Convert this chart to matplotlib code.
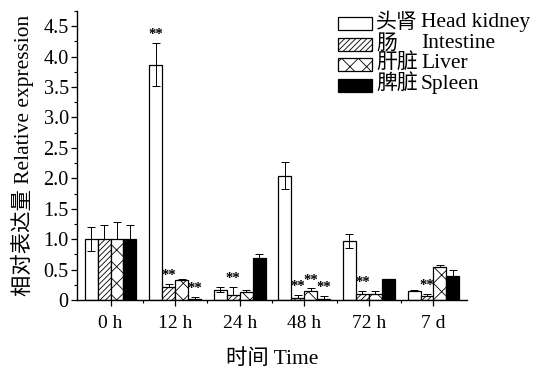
import numpy as np
import matplotlib
matplotlib.use("Agg")
import matplotlib.pyplot as plt
from matplotlib.ticker import MultipleLocator, FixedLocator
from matplotlib.patches import Rectangle

plt.rcParams['font.family'] = ['Liberation Serif', 'Noto Sans CJK SC']
plt.rcParams['hatch.linewidth'] = 0.6

groups = ["0 h", "12 h", "24 h", "48 h", "72 h", "7 d"]
series_cn = ["头肾", "肠", "肝脏", "脾脏"]
series_en = ["Head kidney", "Intestine", "Liver", "Spleen"]
head_kidney = [1.00, 3.87, 0.17, 2.04, 0.97, 0.15]
head_kidney_err = [0.20, 0.36, 0.04, 0.22, 0.12, 0.01]
intestine = [1.00, 0.21, 0.08, 0.04, 0.10, 0.07]
intestine_err = [0.23, 0.05, 0.13, 0.04, 0.05, 0.03]
liver = [1.00, 0.33, 0.13, 0.15, 0.10, 0.54]
liver_err = [0.28, 0.02, 0.03, 0.04, 0.04, 0.03]
spleen = [1.00, 0.02, 0.69, 0.02, 0.34, 0.39]
spleen_err = [0.23, 0.03, 0.06, 0.045, 0.01, 0.10]
# significance markers: (group index, series index)
signif = [(1, 0), (1, 1), (1, 3), (2, 1), (3, 1), (3, 2), (3, 3), (4, 1), (5, 1)]

values = [head_kidney, intestine, liver, spleen]
errors = [head_kidney_err, intestine_err, liver_err, spleen_err]
faces = ['white', 'white', 'white', 'black']
hatches = [None, '//////', 'xx', None]

W, H = 544, 370
fig = plt.figure(figsize=(W / 100, H / 100), dpi=100)
ax = fig.add_axes([77 / W, 1 - 300 / H, 390 / W, 289 / H])

x = np.arange(len(groups))
w = 0.2
offsets = [-0.3, -0.1, 0.1, 0.3]
for i in range(4):
    v = np.array(values[i]); e = np.array(errors[i])
    ax.bar(x + offsets[i], v, width=w, color=faces[i], edgecolor='black',
           linewidth=0.9, hatch=hatches[i], zorder=2)
    if i == 0:
        yerr = e
    else:
        yerr = [np.zeros_like(e), e]
    ax.errorbar(x + offsets[i], v, yerr=yerr, fmt='none', ecolor='black',
                elinewidth=0.7, capsize=3, capthick=0.7, zorder=3)

for g, s in signif:
    top = values[s][g] + errors[s][g]
    ax.text(g + offsets[s], top + 0.03, "**", ha='center', va='bottom',
            fontsize=10.5, fontweight='bold')

ax.set_xlim(-0.52, 5.52)
ax.set_ylim(0, 4.75)
ax.set_xticks(x)
ax.set_xticklabels(groups, fontsize=14)
ax.xaxis.set_minor_locator(FixedLocator(np.arange(0.5, 5.0, 1.0)))
ax.set_yticks(np.arange(0, 4.51, 0.5))
ax.yaxis.set_minor_locator(MultipleLocator(0.25))
ax.set_yticklabels(["0"] + [f"{v:.1f}" for v in np.arange(0.5, 4.51, 0.5)], fontsize=14.5)
ax.tick_params(axis='both', which='major', direction='out', length=4, width=0.9)
ax.tick_params(axis='both', which='minor', direction='out', length=2.5, width=0.8)
ax.tick_params(axis='x', pad=7)
ax.tick_params(axis='y', pad=2)
for sp in ['top', 'right']:
    ax.spines[sp].set_visible(False)
for sp in ['left', 'bottom']:
    ax.spines[sp].set_linewidth(1.0)

ax.set_ylabel("相对表达量 Relative expression", fontsize=15.4, labelpad=7)
ax.set_xlabel("时间 Time", fontsize=15.4, labelpad=12)

# legend drawn manually so the Latin column aligns
row_y = [23, 44, 64, 85]
for i in range(4):
    yc = row_y[i]
    fig.patches.append(Rectangle((338 / W, 1 - (yc + 6.5) / H), 34 / W, 13 / H,
                                 transform=fig.transFigure, figure=fig,
                                 facecolor=faces[i], edgecolor='black',
                                 linewidth=0.9, hatch=hatches[i]))
    fig.text(376 / W, 1 - yc / H, series_cn[i], fontsize=15, va='center', ha='left')
    fig.text(421 / W, 1 - yc / H, series_en[i], fontsize=15.5, va='center', ha='left')

fig.savefig("out.png", dpi=100)
